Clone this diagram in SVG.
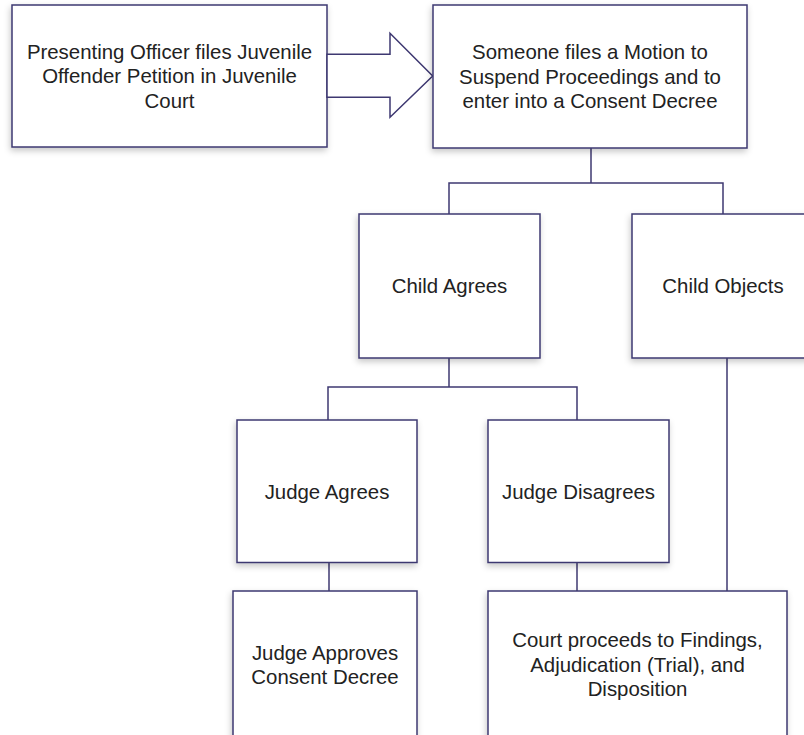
<svg xmlns="http://www.w3.org/2000/svg" width="804" height="735" viewBox="0 0 804 735">
<style>
.box{fill:#fff;stroke:#3e3871;stroke-width:1.5;filter:url(#sh)}
.ln{fill:none;stroke:#3e3871;stroke-width:1.5}
.t{font-family:"Liberation Sans",Arial,sans-serif;font-size:20.4px;fill:#222;text-anchor:middle;dominant-baseline:central}
</style>
<defs>
<filter id="sh" x="-10%" y="-10%" width="120%" height="125%">
<feDropShadow dx="-1" dy="3" stdDeviation="3" flood-color="#000" flood-opacity="0.22"/>
</filter>
</defs>
<rect width="804" height="735" fill="#fff"/>
<g id="connectors">
<polyline class="ln" points="591,148 591,183"/>
<polyline class="ln" points="449,214 449,183 723,183 723,214"/>
<polyline class="ln" points="449,358 449,387"/>
<polyline class="ln" points="328,420 328,387 577,387 577,420"/>
<polyline class="ln" points="329,563 329,591"/>
<polyline class="ln" points="577,563 577,591"/>
<polyline class="ln" points="727,358 727,591"/>
</g>
<g id="n1"><rect class="box" x="12" y="5" width="315" height="142"/>
<text class="t" x="169.5" y="51.5">Presenting Officer files Juvenile</text>
<text class="t" x="169.5" y="76">Offender Petition in Juvenile</text>
<text class="t" x="169.5" y="100.5">Court</text></g>
<g id="arrow"><polygon points="327,54.3 390,54.3 390,33.3 432.7,76 390,117.3 390,97.3 327,97.3" fill="#fff" stroke="#3e3871" stroke-width="1.5" stroke-linejoin="miter"/></g>
<g id="n2"><rect class="box" x="433" y="5" width="314" height="143"/>
<text class="t" x="590" y="52">Someone files a Motion to</text>
<text class="t" x="590" y="76.5">Suspend Proceedings and to</text>
<text class="t" x="590" y="101">enter into a Consent Decree</text></g>
<g id="n3"><rect class="box" x="359" y="214" width="181" height="144"/>
<text class="t" x="449.5" y="286">Child Agrees</text></g>
<g id="n4"><rect class="box" x="632" y="214" width="182" height="144"/>
<text class="t" x="723" y="286">Child Objects</text></g>
<g id="n5"><rect class="box" x="237" y="420" width="180" height="142.5"/>
<text class="t" x="327" y="491.5">Judge Agrees</text></g>
<g id="n6"><rect class="box" x="488" y="420" width="181" height="142.5"/>
<text class="t" x="578.5" y="491.5">Judge Disagrees</text></g>
<g id="n7"><rect class="box" x="233" y="591" width="184" height="148"/>
<text class="t" x="325" y="652.5">Judge Approves</text>
<text class="t" x="325" y="677">Consent Decree</text></g>
<g id="n8"><rect class="box" x="488" y="591" width="299" height="148"/>
<text class="t" x="637.5" y="640">Court proceeds to Findings,</text>
<text class="t" x="637.5" y="664.5">Adjudication (Trial), and</text>
<text class="t" x="637.5" y="689">Disposition</text></g>
</svg>
